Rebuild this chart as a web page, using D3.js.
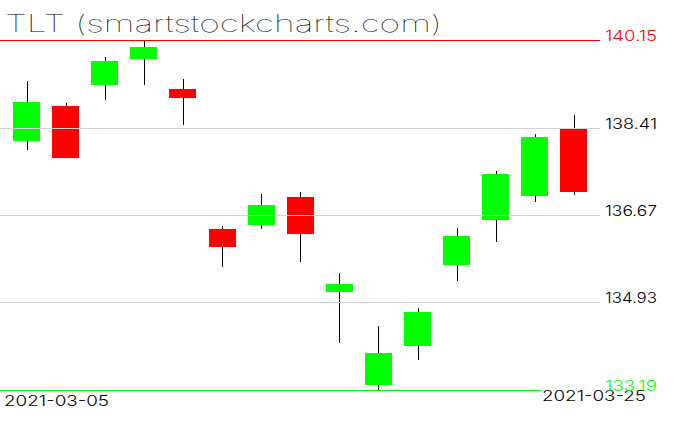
<!DOCTYPE html>
<html><head><meta charset="utf-8">
<script src="https://cdn.jsdelivr.net/npm/d3@7"></script>
<style>
html,body{margin:0;padding:0;background:#fff;}
svg{display:block;}
text{font-family:"Inter","DejaVu Sans",sans-serif;}
</style></head>
<body>
<svg id="c" width="676" height="431"></svg>
<script>
const dates = ["2021-03-05","2021-03-08","2021-03-09","2021-03-10","2021-03-11","2021-03-12","2021-03-15","2021-03-16","2021-03-17","2021-03-18","2021-03-19","2021-03-22","2021-03-23","2021-03-24","2021-03-25"];
const open  = [138.14,138.84,139.26,139.78,139.18,136.39,136.47,137.03,135.14,133.29,134.07,135.68,136.57,137.05,138.38];
const high  = [139.34,138.90,139.81,140.15,139.37,136.45,137.09,137.13,135.52,134.46,134.82,136.41,137.55,138.28,138.66];
const low   = [137.96,137.80,138.96,139.26,138.45,135.64,136.39,135.74,134.12,133.19,133.79,135.36,136.13,136.93,137.07];
const close = [138.92,137.81,139.73,140.01,139.00,136.03,136.87,136.29,135.30,133.93,134.74,136.25,137.49,138.22,137.13];
const tickValues = [140.15,138.41,136.67,134.93,133.19];
const tickLabels = ["140.15","138.41","136.67","134.93","133.19"];
const title = "TLT (smartstockcharts.com)";

const svg = d3.select("#c");
const x = d3.scaleBand().domain(dates).range([7, 593.5]).paddingInner(0.31).paddingOuter(0.155);
const y = d3.scaleLinear().domain([133.19, 140.15]).range([390, 40]);
const lineEnd = 600;

const data = dates.map((d,i)=>({d,o:open[i],h:high[i],l:low[i],c:close[i]}));

// candles
const g = svg.append("g");
data.forEach(k=>{
  const cx = Math.round(x(k.d) + x.bandwidth()/2) + 0.5;
  g.append("line").attr("x1",cx).attr("x2",cx)
    .attr("y1",Math.round(y(k.h))).attr("y2",Math.round(y(k.l)))
    .attr("stroke","#000").attr("stroke-width",1);
  const top = Math.round(y(Math.max(k.o,k.c)));
  const bot = Math.round(y(Math.min(k.o,k.c)));
  g.append("rect").attr("x",Math.round(x(k.d))).attr("y",top)
    .attr("width",Math.round(x.bandwidth())).attr("height",Math.max(1,bot-top))
    .attr("fill", k.c>=k.o ? "#00ff00" : "#ff0000")
    .attr("shape-rendering","crispEdges");
});

// horizontal levels
tickValues.forEach((v,i)=>{
  let col = "#d3d3d3";
  if(i===0) col="#ff0000";
  if(i===tickValues.length-1) col="#00ff00";
  svg.append("line").attr("x1",0).attr("x2",lineEnd)
    .attr("y1",Math.round(y(v))+0.5).attr("y2",Math.round(y(v))+0.5)
    .attr("stroke",col).attr("stroke-width",1).attr("shape-rendering","crispEdges");
});

// date labels
svg.append("text").attr("x",4).attr("y",406).attr("font-size",14).attr("font-weight",300)
  .attr("textLength",105).attr("lengthAdjust","spacingAndGlyphs")
  .attr("fill","#000").text(dates[0]);
svg.append("rect").attr("x",541).attr("y",389).attr("width",106).attr("height",14).attr("fill","#fff");
svg.append("text").attr("x",542).attr("y",401).attr("font-size",14).attr("font-weight",300)
  .attr("textLength",104).attr("lengthAdjust","spacingAndGlyphs")
  .attr("fill","#000").text(dates[dates.length-1]);

// price labels
tickValues.forEach((v,i)=>{
  let col = "#000";
  if(i===0) col="#ff0000";
  if(i===tickValues.length-1) col="#00ff00";
  svg.append("text").attr("x",605).attr("y",Math.round(y(v))+0.5)
    .attr("font-size",14).attr("font-weight",300)
    .attr("textLength",52).attr("lengthAdjust","spacingAndGlyphs")
    .attr("fill",col).text(tickLabels[i]);
});

// title
svg.append("text").attr("x",5).attr("y",32).attr("font-size",23.5)
  .attr("font-weight",100)
  .attr("textLength",437).attr("lengthAdjust","spacingAndGlyphs")
  .attr("fill","#000").text(title);
</script>
</body></html>
